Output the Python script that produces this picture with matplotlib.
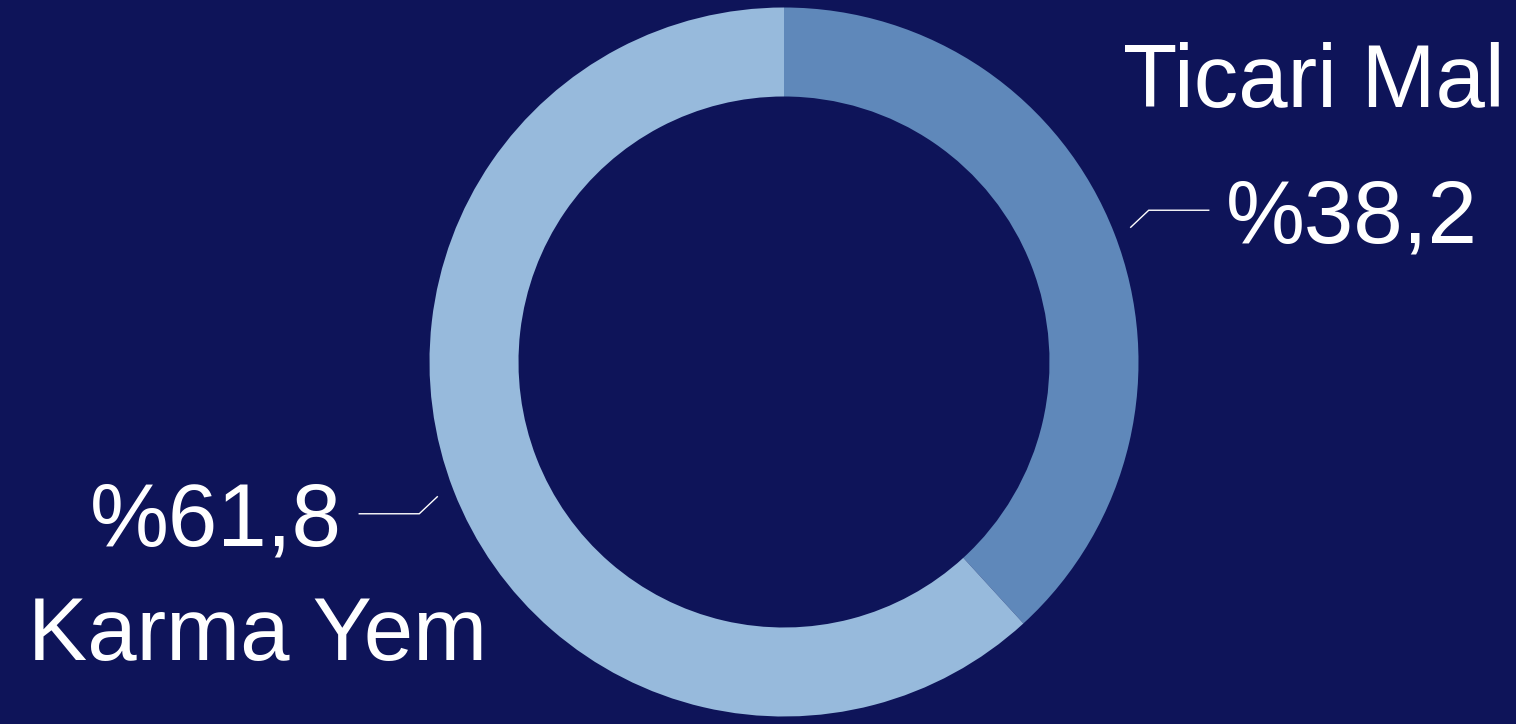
import numpy as np
import matplotlib
matplotlib.use("Agg")
import matplotlib.pyplot as plt

# Data
categories = ["Ticari Mal", "Karma Yem"]
shares = [38.2, 61.8]
value_labels = ["%38,2", "%61,8"]

# Style
BG = "#0E1459"
COLORS = ["#5F88BA", "#97BADC"]
W, H = 1516, 724
plt.rcParams["font.family"] = ["Liberation Sans", "DejaVu Sans"]

fig = plt.figure(figsize=(W / 100, H / 100), dpi=100, facecolor=BG)
ax = fig.add_axes([0, 0, 1, 1])
ax.set_facecolor(BG)
ax.axis("off")

cx, cy = 784, 362
r_out, r_in = 354.5, 265.5
wedges, _ = ax.pie(shares, colors=COLORS, startangle=90, counterclock=False,
                   radius=r_out, center=(cx, cy),
                   wedgeprops=dict(width=r_out - r_in, linewidth=0))
ax.set_xlim(0, W)
ax.set_ylim(0, H)
ax.set_aspect("equal")

fs = 64
# Leader lines from wedge mid-angles, then the value text
for i, w in enumerate(wedges):
    mid = np.deg2rad((w.theta1 + w.theta2) / 2)
    r0 = 372
    x0, y0 = cx + r0 * np.cos(mid), cy + r0 * np.sin(mid)
    sign = 1 if np.cos(mid) >= 0 else -1
    x1, y1 = x0 + sign * 18, y0 + 17 * np.sign(np.sin(mid))
    x2 = x1 + sign * 60
    ax.plot([x0, x1, x2], [y0, y1, y1], color="white", lw=1.0,
            solid_joinstyle="miter")
    tx = x2 + sign * 17
    ha = "left" if sign > 0 else "right"
    ax.text(tx, y1 - 32, value_labels[i], color="white", fontsize=fs,
            ha=ha, va="baseline")

# Category names
ax.text(1505, H - 107, categories[0], color="white", fontsize=fs,
        ha="right", va="baseline")
ax.text(28, H - 660, categories[1], color="white", fontsize=fs,
        ha="left", va="baseline")

fig.savefig("out.png", dpi=100, facecolor=BG)
